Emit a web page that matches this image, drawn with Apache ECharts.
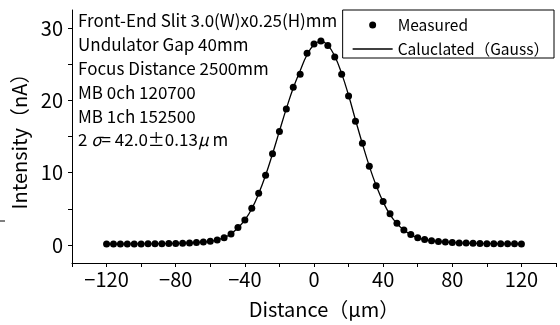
<!DOCTYPE html>
<html>
<head>
<meta charset="utf-8">
<script src="https://cdn.jsdelivr.net/npm/echarts@6/dist/echarts.min.js"></script>
<style>
  html, body { margin: 0; padding: 0; background: #fff; }
  #chart { width: 560px; height: 325px; }
</style>
</head>
<body>
<div id="chart"></div>
<script>
// Distance (um) of each measured point
const positions = [
  -120, -116, -112, -108, -104, -100, -96, -92, -88, -84, -80, -76, -72, -68, -64, -60,
  -56, -52, -48, -44, -40, -36, -32, -28, -24, -20, -16, -12, -8, -4, 0,
  4, 8, 12, 16, 20, 24, 28, 32, 36, 40, 44, 48, 52, 56, 60,
  64, 68, 72, 76, 80, 84, 88, 92, 96, 100, 104, 108, 112, 116, 120
];

// Intensity (nA)
const measured = [
  0.12, 0.12, 0.13, 0.13, 0.14, 0.14, 0.15, 0.16, 0.17, 0.19, 0.21, 0.24, 0.28, 0.34, 0.42, 0.52,
  0.69, 1.0, 1.52, 2.4, 3.46, 5.07, 7.15, 9.64, 12.6, 15.7, 18.8, 21.8, 23.6, 26.5, 27.8,
  28.2, 27.6, 26.0, 23.6, 20.6, 17.1, 14.06, 10.9, 8.2, 6.0, 4.3, 3.0, 2.07, 1.45, 1.0,
  0.74, 0.57, 0.47, 0.39, 0.33, 0.28, 0.25, 0.22, 0.2, 0.18, 0.17, 0.16, 0.15, 0.15, 0.14
];

const calculated = [
  0.12, 0.12, 0.13, 0.13, 0.14, 0.14, 0.15, 0.16, 0.17, 0.19, 0.21, 0.24, 0.28, 0.34, 0.41, 0.5,
  0.7, 1.02, 1.55, 2.35, 3.45, 5.0, 7.1, 9.65, 12.6, 15.75, 18.85, 21.7, 24.1, 26.3, 27.7,
  28.2, 27.6, 26.1, 23.7, 20.7, 17.3, 14.0, 10.9, 8.2, 5.95, 4.2, 2.95, 2.05, 1.42, 1.0,
  0.73, 0.57, 0.47, 0.39, 0.33, 0.28, 0.25, 0.22, 0.2, 0.18, 0.17, 0.16, 0.15, 0.15, 0.14
];

const yTicks = [0, 5, 10, 15, 20, 25, 30];
const yTickLabels = [0, 10, 20, 30];

const infoLines = [
  "Front-End Slit 3.0(W)x0.25(H)mm",
  "Undulator Gap 40mm",
  "Focus Distance 2500mm",
  "MB 0ch 120700",
  "MB 1ch 152500",
  "2 {g|σ}= 42.0±0.13{g|μ} m"
];

const font = '"Noto Sans CJK JP", "Noto Sans", sans-serif';
const ink = "#000";

const chart = echarts.init(document.getElementById("chart"), null, { renderer: "canvas" });

const axisBase = {
  axisLine: { show: true, onZero: false, lineStyle: { color: ink, width: 1 } },
  axisTick: { show: true, inside: false, length: 4, lineStyle: { color: ink, width: 1 } },
  splitLine: { show: false },
  axisLabel: { color: ink, fontFamily: font, fontSize: 20 }
};

chart.setOption({
  animation: false,
  backgroundColor: "#fff",
  grid: { left: 72, right: 4, top: 10, bottom: 62, containLabel: false },
  xAxis: {
    type: "value",
    min: -140,
    max: 140,
    interval: 20,
    ...axisBase,
    axisLabel: {
      ...axisBase.axisLabel,
      margin: 6,
      showMinLabel: true,
      showMaxLabel: true,
      formatter: (v) => (v % 40 === 0 && Math.abs(v) <= 120 ? String(v).replace("-", "−") : "")
    },
    name: "Distance（μm）",
    nameLocation: "middle",
    nameGap: 36,
    nameTextStyle: { color: ink, fontFamily: font, fontSize: 20, padding: [0, 0, 0, 20] }
  },
  yAxis: {
    type: "value",
    min: -2.5,
    max: 32.5,
    ...axisBase,
    axisTick: { ...axisBase.axisTick, customValues: yTicks },
    axisLabel: { ...axisBase.axisLabel, margin: 9, customValues: yTickLabels },
    name: "Intensity（nA）",
    nameLocation: "middle",
    nameRotate: 90,
    nameGap: 38,
    nameTextStyle: { color: ink, fontFamily: font, fontSize: 20 }
  },
  legend: {
    orient: "vertical",
    right: 6,
    top: 10,
    padding: [7, 5, 1, 10],
    itemWidth: 40,
    itemHeight: 7,
    itemGap: 8,
    borderColor: ink,
    borderWidth: 1,
    backgroundColor: "#fff",
    textStyle: { color: ink, fontFamily: font, fontSize: 15.5, lineHeight: 16 },
    data: [
      { name: "Measured", icon: "circle" },
      { name: "Caluclated（Gauss）", icon: "path://M0,0L40,0L40,1.3L0,1.3Z" }
    ]
  },
  graphic: [
    {
      type: "text",
      left: 78,
      top: 9,
      z: 10,
      style: {
        text: infoLines.join("\n"),
        fill: ink,
        fontFamily: font,
        fontSize: 17,
        lineHeight: 23.8,
        rich: {
          g: { fontFamily: font, fontSize: 17, fontStyle: "italic", fill: ink, lineHeight: 23.8 }
        }
      }
    },
    {
      type: "line",
      shape: { x1: 0, y1: 221, x2: 5, y2: 221 },
      style: { stroke: ink, lineWidth: 1 }
    }
  ],
  series: [
    {
      name: "Caluclated（Gauss）",
      type: "line",
      data: positions.map((x, i) => [x, calculated[i]]),
      smooth: true,
      symbol: "none",
      showSymbol: false,
      lineStyle: { color: ink, width: 1.3 },
      itemStyle: { color: ink },
      z: 2
    },
    {
      name: "Measured",
      type: "scatter",
      data: positions.map((x, i) => [x, measured[i]]),
      symbol: "circle",
      symbolSize: 7,
      itemStyle: { color: ink, opacity: 1 },
      z: 3
    }
  ]
});
</script>
</body>
</html>
